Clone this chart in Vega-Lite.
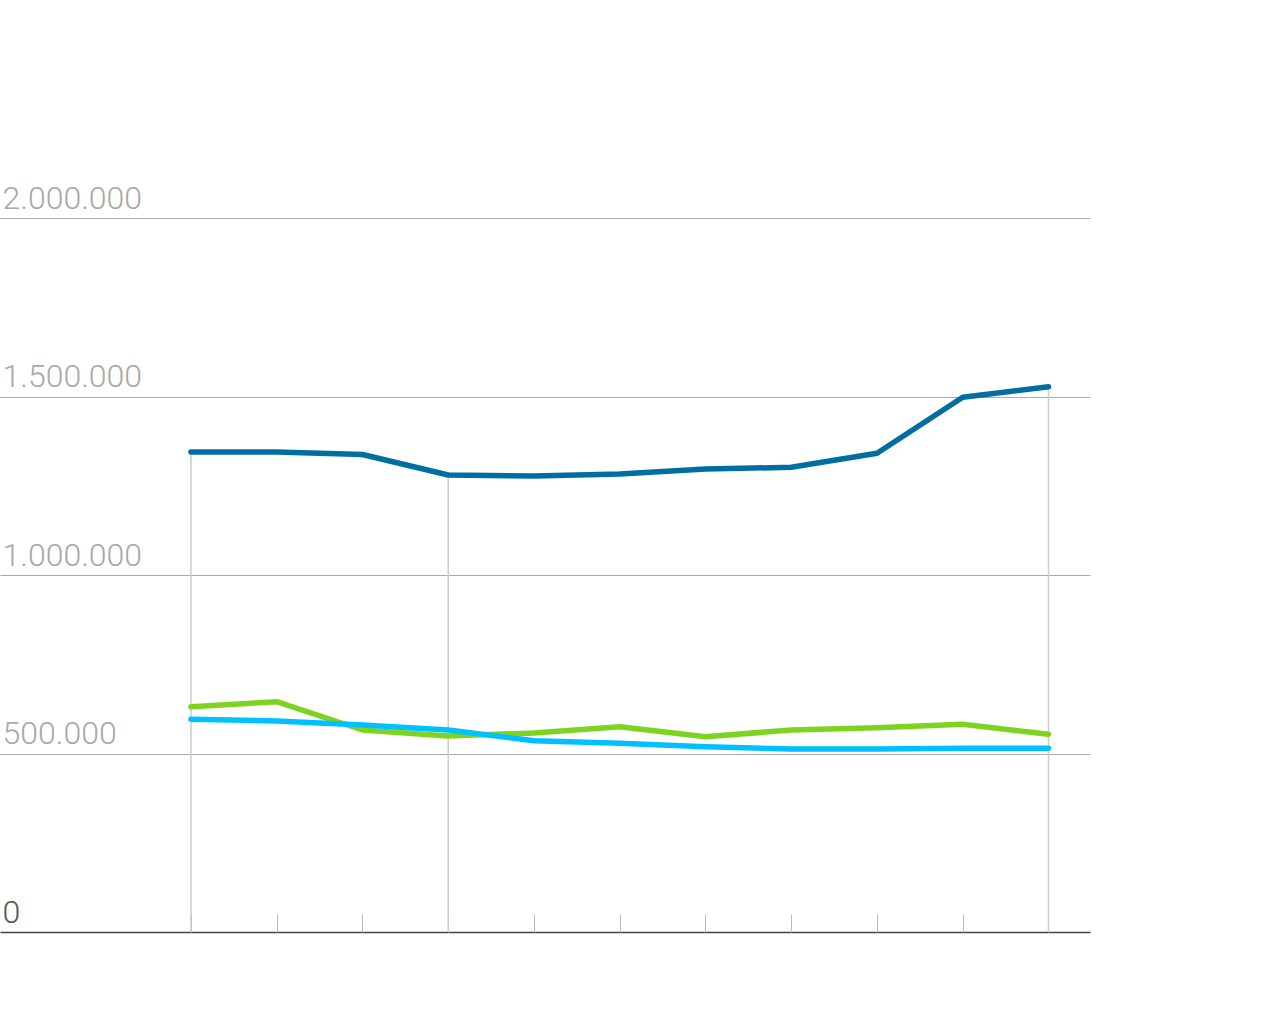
{
  "$schema": "https://vega.github.io/schema/vega-lite/v6.json",
  "autosize": "none",
  "width": 1090,
  "height": 714,
  "padding": {"left": 0, "top": 218, "right": 190, "bottom": 84},
  "background": "white",
  "config": {
    "view": {"stroke": null},
    "locale": {"number": {"decimal": ",", "thousands": ".", "grouping": [3], "currency": ["", " €"]}}
  },
  "data": {
    "values": [
      {"year": 2008, "series": "A", "value": 1344500},
      {"year": 2009, "series": "A", "value": 1344500},
      {"year": 2010, "series": "A", "value": 1337500},
      {"year": 2011, "series": "A", "value": 1280100},
      {"year": 2012, "series": "A", "value": 1277300},
      {"year": 2013, "series": "A", "value": 1282900},
      {"year": 2014, "series": "A", "value": 1296900},
      {"year": 2015, "series": "A", "value": 1301700},
      {"year": 2016, "series": "A", "value": 1340900},
      {"year": 2017, "series": "A", "value": 1497800},
      {"year": 2018, "series": "A", "value": 1527500},
      {"year": 2008, "series": "B", "value": 631100},
      {"year": 2009, "series": "B", "value": 645100},
      {"year": 2010, "series": "B", "value": 565800},
      {"year": 2011, "series": "B", "value": 549000},
      {"year": 2012, "series": "B", "value": 557400},
      {"year": 2013, "series": "B", "value": 575100},
      {"year": 2014, "series": "B", "value": 547100},
      {"year": 2015, "series": "B", "value": 565800},
      {"year": 2016, "series": "B", "value": 572300},
      {"year": 2017, "series": "B", "value": 581800},
      {"year": 2018, "series": "B", "value": 553800},
      {"year": 2008, "series": "C", "value": 595800},
      {"year": 2009, "series": "C", "value": 591000},
      {"year": 2010, "series": "C", "value": 579800},
      {"year": 2011, "series": "C", "value": 565800},
      {"year": 2012, "series": "C", "value": 535900},
      {"year": 2013, "series": "C", "value": 528600},
      {"year": 2014, "series": "C", "value": 519100},
      {"year": 2015, "series": "C", "value": 512600},
      {"year": 2016, "series": "C", "value": 512600},
      {"year": 2017, "series": "C", "value": 514600},
      {"year": 2018, "series": "C", "value": 514600}
    ]
  },
  "layer": [
    {
      "transform": [{"filter": "datum.series == 'A' && (datum.year == 2008 || datum.year == 2011 || datum.year == 2018)"}],
      "mark": {"type": "rule", "color": "#cccccc", "strokeWidth": 1.5},
      "encoding": {
        "x": {"field": "year", "type": "quantitative"},
        "y": {"field": "value", "type": "quantitative"},
        "y2": {"datum": 0}
      }
    },
    {
      "mark": {"type": "line", "strokeWidth": 5.5, "strokeCap": "round", "strokeJoin": "round"},
      "encoding": {
        "x": {
          "field": "year",
          "type": "quantitative",
          "scale": {"domain": [2005.773, 2018.484], "nice": false, "zero": false},
          "axis": {
            "title": null,
            "values": [2008, 2009, 2010, 2011, 2012, 2013, 2014, 2015, 2016, 2017, 2018],
            "labels": false,
            "domain": false,
            "grid": false,
            "ticks": true,
            "tickSize": -18,
            "tickColor": "#bbbbbb",
            "tickWidth": 1
          }
        },
        "y": {
          "field": "value",
          "type": "quantitative",
          "scale": {"domain": [0, 2000000], "nice": false},
          "axis": {
            "title": null,
            "values": [0, 500000, 1000000, 1500000, 2000000],
            "format": ",d",
            "domain": false,
            "ticks": false,
            "grid": true,
            "gridColor": {"condition": {"test": "datum.value == 0", "value": "#444444"}, "value": "#aaaaaa"},
            "gridWidth": {"condition": {"test": "datum.value == 0", "value": 1.5}, "value": 1},
            "labelAlign": "left",
            "labelBaseline": "alphabetic",
            "labelPadding": -2,
            "labelOffset": -10,
            "labelFont": "Roboto",
            "labelFontWeight": 300,
            "labelFontSize": 32,
            "labelColor": {"condition": {"test": "datum.value == 0", "value": "#555555"}, "value": "#a8a8a8"},
            "labelOverlap": false
          }
        },
        "color": {
          "field": "series",
          "type": "nominal",
          "scale": {"domain": ["A", "B", "C"], "range": ["#006ea1", "#7ed321", "#00c0ff"]},
          "legend": null
        }
      }
    }
  ]
}
